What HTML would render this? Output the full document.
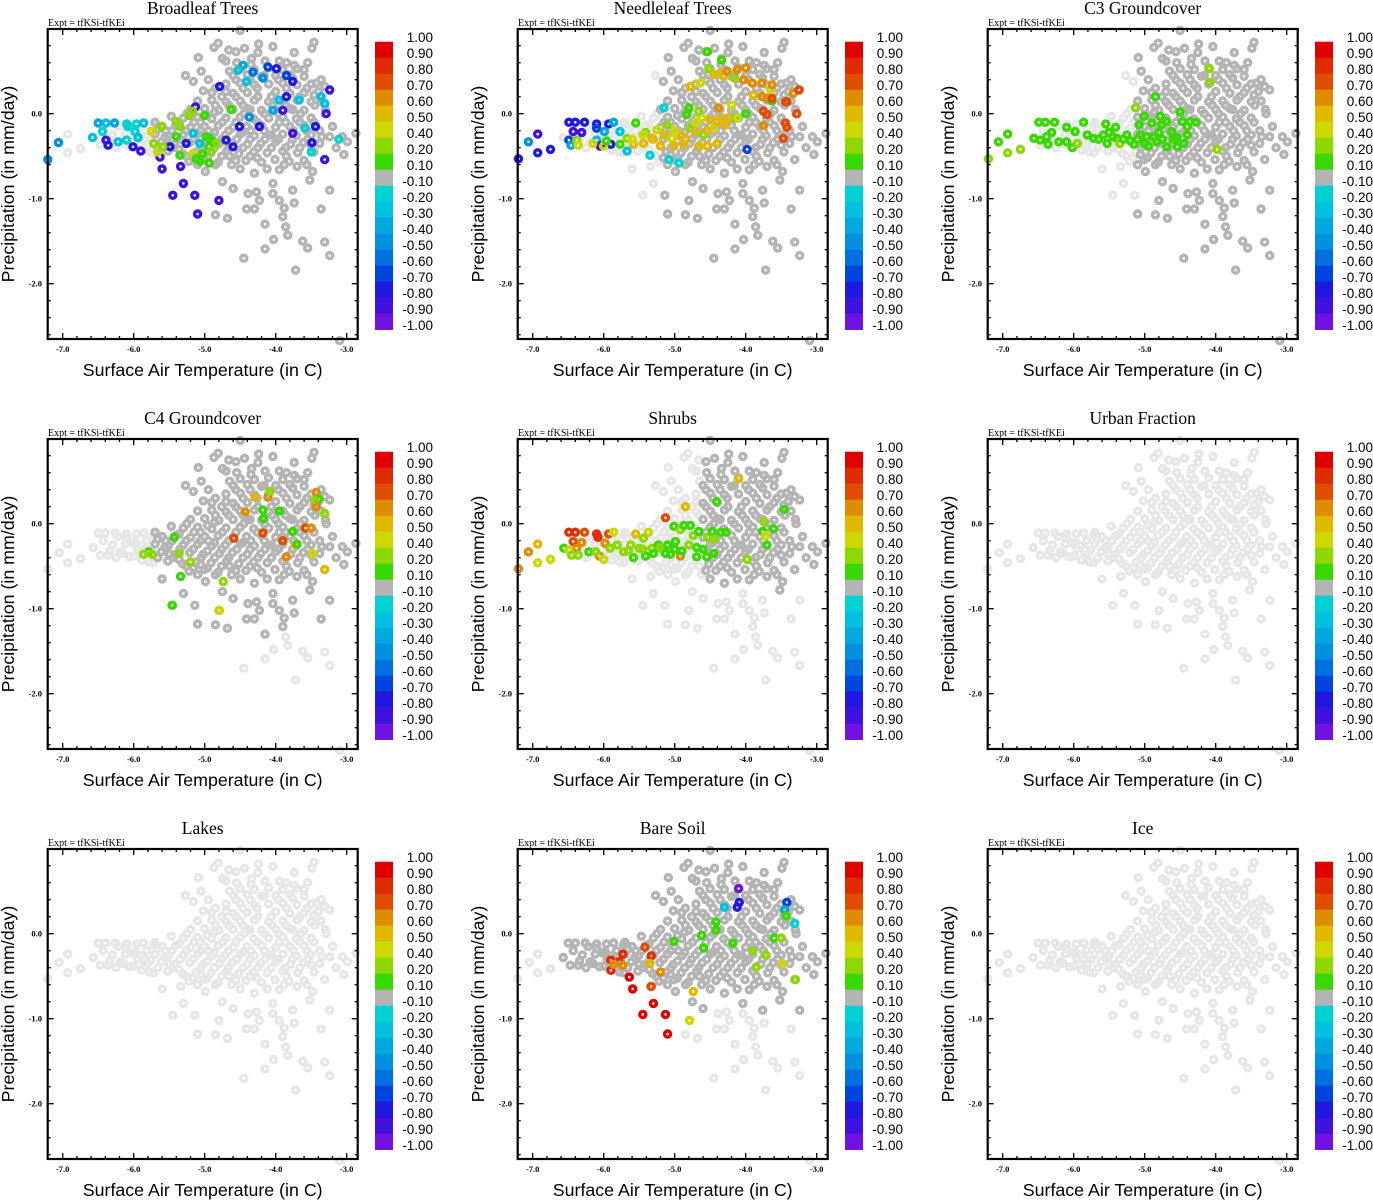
<!DOCTYPE html>
<html><head><meta charset="utf-8"><style>
html,body{margin:0;padding:0;background:#fff;}
svg{display:block;}
</style></head><body>
<svg id="chart" xmlns="http://www.w3.org/2000/svg" width="1373" height="1200" viewBox="0 0 1373 1200"></svg>
<script>
// ---------- data ----------
const panelTitles = ["Broadleaf Trees","Needleleaf Trees","C3 Groundcover","C4 Groundcover","Shrubs","Urban Fraction","Lakes","Bare Soil","Ice"];
const xTickValues = [-7,-6,-5,-4,-3];
const xTickLabels = ["-7.0","-6.0","-5.0","-4.0","-3.0"];
const yTickValues = [0,-1,-2];
const yTickLabels = ["0.0","-1.0","-2.0"];
const cbarLabels = ["1.00","0.90","0.80","0.70","0.60","0.50","0.40","0.20","0.10","-0.10","-0.20","-0.30","-0.40","-0.50","-0.60","-0.70","-0.80","-0.90","-1.00"];
const cbarBounds = [1.0,0.9,0.8,0.7,0.6,0.5,0.4,0.2,0.1,-0.1,-0.2,-0.3,-0.4,-0.5,-0.6,-0.7,-0.8,-0.9,-1.0];
const cbarColors = ["#e00000","#e02a00","#e04c00","#e08c00","#e0b800","#ccd800","#8cd800","#38d800","#b4b4b4","#00d2d2","#00c0e0","#00a8e0","#0090e0","#0070e0","#0044e0","#2018e0","#4012e0","#7012e0"];

// shared point cloud: [temperature, precipitation]
const basePoints = [
[-7.21,-0.53],[-7.05,-0.34],[-6.93,-0.24],[-6.93,-0.46],[-6.75,-0.41],
[-6.5,-0.11],[-6.4,-0.11],[-6.26,-0.11],[-6.1,-0.12],[-5.96,-0.12],[-5.86,-0.11],
[-6.57,-0.28],[-6.43,-0.2],[-6.34,-0.32],[-6.19,-0.33],[-6.47,-0.37],[-6.36,-0.37],[-6.06,-0.39],[-5.89,-0.43],[-6.01,-0.23],[-6.1,-0.17],[-5.98,-0.21],[-6.15,-0.35],[-6.0,-0.38],
[-5.09,0.66],[-5.27,0.45],[-5.16,0.38],[-5.02,0.27],[-4.81,0.83],[-4.87,0.78],[-4.75,0.65],[-4.66,0.75],[-4.56,0.73],[-4.44,0.77],[-4.34,0.65],[-4.24,0.82],[-4.04,0.79],[-3.74,0.72],[-3.46,0.84],[-3.49,0.77],[-3.74,0.57],[-4.5,0.98],
[-3.43,0.36],[-3.31,0.32],[-3.24,0.28],[-3.29,0.0],[-3.2,-0.15],[-3.35,-0.27],[-3.24,-0.27],[-3.06,-0.27],[-2.87,-0.23],[-2.99,-0.33],[-3.04,-0.48],[-3.31,-0.54],
[-3.48,-0.68],[-3.52,-0.78],[-3.24,-0.9],[-3.36,-1.12],[-3.31,-1.51],[-3.24,-1.67],[-3.55,-1.58],[-3.62,-1.5],[-3.72,-1.84],[-3.83,-1.43],[-3.86,-1.33],[-3.9,-1.21],[-3.88,-1.11],
[-4.03,-1.48],[-4.15,-1.59],[-4.15,-1.3],[-4.45,-1.7],[-4.41,-1.12],[-4.3,-1.12],[-4.23,-1.02],[-4.27,-0.92],[-4.39,-0.94],[-4.04,-0.94],[-3.95,-1.02],[-4.04,-0.82],[-3.76,-0.9],[-3.74,-1.05],
[-4.6,-0.88],[-4.75,-0.8],[-4.68,-1.23],[-4.85,-1.19],[-5.1,-1.18],[-5.45,-0.96],[-5.14,-0.96],[-5.3,-0.82],[-4.8,-1.02],[-5.6,-0.65],[-5.34,-0.62],[-4.99,-0.68],[-5.47,-0.03],[-3.1,-2.67],
[-5.72,-0.46],[-5.52,-0.44],[-5.31,-0.47],[-5.12,-0.45],[-4.91,-0.46],[-4.69,-0.44],[-4.52,-0.47],[-4.31,-0.45],[-4.12,-0.46],[-3.9,-0.44],[-3.69,-0.46],
[-5.22,-0.56],[-5.01,-0.54],[-4.81,-0.57],[-4.42,-0.55],[-4.2,-0.57],[-4.01,-0.54],[-3.81,-0.56],[-3.6,-0.55],[-4.62,-0.6],[-3.95,-0.66],[-4.3,-0.7],
[-5.8,-0.35],[-5.61,-0.33],[-5.42,-0.36],[-5.21,-0.34],[-5.02,-0.36],[-4.79,-0.35],[-4.61,-0.34],[-4.4,-0.36],[-4.21,-0.35],[-4.0,-0.33],[-3.79,-0.36],[-3.61,-0.34],[-3.5,-0.37],
[-5.9,-0.26],[-5.7,-0.24],[-5.51,-0.26],[-5.3,-0.25],[-5.1,-0.24],[-4.9,-0.26],[-4.71,-0.25],[-4.5,-0.24],[-4.3,-0.26],[-4.1,-0.25],[-3.9,-0.24],[-3.71,-0.26],[-3.5,-0.25],
[-5.6,-0.15],[-5.41,-0.14],[-5.2,-0.16],[-5.0,-0.15],[-4.81,-0.14],[-4.6,-0.16],[-4.41,-0.15],[-4.2,-0.14],[-4.0,-0.16],[-3.8,-0.15],[-3.6,-0.14],
[-5.3,-0.05],[-5.1,-0.04],[-4.9,-0.06],[-4.7,-0.05],[-4.5,-0.04],[-4.31,-0.06],[-4.1,-0.05],[-3.9,-0.04],[-3.71,-0.06],[-3.5,-0.05],
[-5.2,0.05],[-5.0,0.06],[-4.8,0.04],[-4.6,0.05],[-4.4,0.06],[-4.2,0.04],[-4.0,0.05],[-3.8,0.06],[-3.6,0.04],
[-5.1,0.15],[-4.9,0.16],[-4.7,0.14],[-4.5,0.15],[-4.3,0.16],[-4.1,0.14],[-3.9,0.15],[-3.7,0.16],[-3.5,0.14],
[-4.9,0.25],[-4.7,0.26],[-4.6,0.24],[-4.4,0.25],[-4.0,0.26],[-3.8,0.24],[-3.6,0.25],[-3.4,0.26],
[-4.7,0.35],[-4.5,0.36],[-4.3,0.34],[-4.1,0.35],[-3.9,0.36],[-3.7,0.34],[-3.5,0.35],
[-4.6,0.45],[-4.4,0.46],[-4.2,0.44],[-4.0,0.45],[-3.8,0.46],[-3.6,0.44],
[-4.5,0.53],[-4.3,0.52],[-4.1,0.54],[-3.9,0.52],[-3.7,0.53],
[-5.55,-0.2],[-5.35,-0.3],[-5.15,-0.1],[-4.95,-0.2],[-4.75,-0.1],[-4.55,-0.3],[-4.35,-0.2],[-4.15,-0.3],[-3.95,-0.1],[-3.75,-0.2],[-3.55,-0.3],
[-5.45,-0.4],[-5.05,-0.4],[-4.65,-0.5],[-4.25,-0.4],[-3.85,-0.5],[-5.25,0.0],[-4.85,0.1],[-4.45,0.0],[-4.05,0.1],[-3.65,0.0],
[-4.85,0.3],[-4.25,0.2],[-3.85,0.3],[-3.45,0.1],[-4.55,0.6],[-3.95,0.62],[-3.3,0.05],[-3.15,-0.4],[-5.7,-0.1],[-5.85,-0.3],
[-5.82,-0.2],[-5.76,-0.31],[-5.66,-0.18],[-5.66,-0.4],[-5.56,-0.28],[-5.5,-0.36],[-5.46,-0.2],[-5.36,-0.12],[-5.36,-0.42],[-5.26,-0.2],[-5.26,-0.5],[-5.16,-0.3],[-5.16,-0.52],[-5.06,-0.1],[-5.06,-0.2],[-5.06,-0.48],
[-4.96,-0.02],[-4.96,-0.32],[-4.96,-0.52],[-4.86,-0.22],[-4.86,-0.4],[-4.86,0.02],[-4.76,-0.3],[-4.76,-0.5],[-4.76,0.2],[-4.66,-0.2],[-4.66,-0.4],[-4.66,0.1],[-4.56,-0.1],[-4.56,-0.55],[-4.56,0.2],[-4.56,0.4],
[-4.46,-0.4],[-4.46,-0.22],[-4.46,0.1],[-4.46,0.3],[-4.36,-0.3],[-4.36,-0.5],[-4.36,0.05],[-4.36,0.4],[-4.26,-0.1],[-4.26,0.3],[-4.26,-0.52],[-4.16,-0.2],[-4.16,0.0],[-4.16,0.45],[-4.06,-0.4],[-4.06,-0.25],[-4.06,0.2],
[-3.96,-0.3],[-3.96,0.0],[-3.96,0.4],[-3.86,-0.1],[-3.86,-0.4],[-3.86,0.1],[-3.76,-0.3],[-3.76,0.05],[-3.76,0.42],[-3.66,-0.4],[-3.66,-0.1],[-3.66,0.2],[-3.56,-0.2],[-3.56,0.3],[-3.46,-0.1],[-3.46,-0.45],[-3.46,0.22],
[-3.38,-0.2],[-3.38,-0.35],[-3.36,0.15],[-3.36,0.4],[-3.56,-0.6],[-3.7,-0.62],[-3.88,-0.6],[-4.12,-0.65],[-4.5,-0.65],[-4.85,-0.6],[-5.1,-0.6],
[-4.65,0.5],[-4.35,0.58],[-4.15,0.62],[-3.85,0.6],[-3.6,0.52],[-3.55,0.6],[-4.95,0.4],[-5.05,0.5],[-4.7,0.62],[-4.25,0.72],
[-6.3,-0.25],[-6.22,-0.15],[-6.12,-0.24],[-5.95,-0.3],[-6.25,-0.4],[-5.92,-0.36],[-5.78,-0.45],[-5.72,-0.13]
];

// panel-specific coloured points: [temperature, precipitation, value]
const seriesBroadleaf = [
[-6.5,-0.11,-0.4],[-6.39,-0.11,-0.3],[-6.27,-0.11,-0.4],[-6.1,-0.12,-0.2],[-6.08,-0.15,-0.2],[-5.96,-0.12,-0.2],[-5.86,-0.11,-0.3],[-6.58,-0.28,-0.3],[-6.44,-0.21,-0.2],[-6.22,-0.33,-0.3],[-6.1,-0.31,-0.2],[-5.98,-0.21,-0.2],[-5.94,-0.28,-0.3],[-7.21,-0.54,-0.5],[-7.06,-0.34,-0.5],
[-6.39,-0.31,-0.85],[-6.36,-0.37,-0.8],[-6.01,-0.39,-0.8],[-5.9,-0.44,-0.9],[-5.63,-0.51,-0.9],[-5.6,-0.65,-0.9],[-5.34,-0.62,-0.9],[-5.3,-0.82,-0.9],[-5.45,-0.96,-0.9],[-5.14,-0.96,-0.9],[-5.1,-1.18,-0.9],[-4.8,-1.02,-0.9],[-5.13,0.08,-0.85],[-3.29,0.0,-0.85],[-3.31,-0.54,-0.9],[-3.44,-0.15,-0.8],[-3.24,0.28,-0.85],[-3.49,-0.34,-0.8],[-5.49,-0.39,-0.8],[-5.26,-0.35,-0.8],
[-5.75,-0.21,0.45],[-5.72,-0.35,0.2],[-5.66,-0.45,0.45],[-5.61,-0.15,0.2],[-5.59,-0.39,0.2],[-5.4,-0.09,0.3],[-5.4,-0.27,0.15],[-5.35,-0.15,0.2],[-5.35,-0.49,0.15],[-5.22,-0.02,0.2],[-5.17,0.03,0.3],[-5.17,-0.47,0.45],[-5.12,-0.53,0.15],[-5.07,-0.56,0.15],[-5.03,-0.47,0.15],[-5.0,-0.02,0.15],[-4.94,-0.58,0.15],[-4.98,-0.27,0.15],[-4.93,-0.29,0.15],[-4.88,-0.33,0.15],[-4.84,-0.35,0.2],[-4.94,-0.39,0.15],[-4.91,-0.44,0.2],[-4.63,0.05,0.15],
[-4.46,0.57,-0.4],[-4.53,0.51,-0.3],[-4.32,0.49,-0.6],[-4.18,0.42,-0.5],[-4.11,0.55,-0.7],[-3.99,0.53,-0.75],[-3.85,0.45,-0.7],[-3.76,0.38,-0.75],[-3.67,0.16,-0.3],[-3.59,-0.17,-0.2],[-3.5,-0.45,-0.2],[-3.36,0.2,-0.3],[-3.31,0.12,-0.25],[-3.11,-0.3,-0.2],[-4.41,0.38,-0.3],[-4.79,0.32,-0.75],[-4.7,-0.31,-0.75],[-4.6,-0.39,-0.75],[-4.51,-0.15,-0.75],[-4.37,-0.04,-0.5],[-4.23,-0.15,-0.75],[-3.9,0.04,-0.85],[-3.76,-0.23,-0.85],[-4.04,0.04,-0.4],[-3.95,0.16,-0.3],[-3.85,0.2,-0.75],[-5.07,-0.35,-0.3],[-5.16,-0.23,-0.3]
];
const seriesNeedleleaf = [
[-7.2,-0.53,-0.75],[-7.06,-0.33,-0.5],[-6.93,-0.24,-0.85],[-6.93,-0.46,-0.75],[-6.75,-0.42,-0.75],[-6.49,-0.1,-0.75],[-6.4,-0.1,-0.75],[-6.27,-0.1,-0.75],[-6.1,-0.12,-0.75],[-6.1,-0.17,-0.65],[-5.93,-0.12,-0.75],[-5.86,-0.1,-0.4],[-6.43,-0.21,-0.85],[-6.31,-0.22,-0.85],[-6.49,-0.31,-0.65],[-6.46,-0.37,-0.4],[-6.1,-0.31,-0.3],[-6.05,-0.38,-0.85],[-5.9,-0.36,-0.75],[-5.99,-0.21,-0.4],[-5.77,-0.21,-0.3],[-5.67,-0.44,-0.3],[-5.15,0.07,-0.2],[-5.35,-0.49,-0.2],[-5.08,-0.54,-0.2],[-4.94,-0.58,-0.2],[-3.98,-0.42,-0.65],
[-6.38,-0.31,0.2],[-6.36,-0.37,0.45],[-6.15,-0.35,0.45],[-6.0,-0.38,0.45],[-5.96,-0.32,0.15],[-5.77,-0.36,0.15],[-5.67,-0.29,0.3],[-5.55,-0.11,0.15],[-5.58,-0.36,0.55],[-5.44,-0.35,0.55],[-5.41,-0.22,0.3],[-5.32,-0.29,0.55],[-5.25,-0.19,0.45],[-5.2,-0.38,0.55],[-5.11,-0.13,0.3],[-5.04,-0.29,0.45],[-5.01,-0.38,0.55],[-4.92,-0.25,0.55],[-4.87,-0.36,0.55],[-4.83,-0.01,0.15],[-4.78,-0.17,0.3],[-4.71,-0.21,0.55],[-4.66,-0.38,0.55],[-4.62,-0.05,0.45],[-4.59,-0.25,0.2],[-4.54,-0.38,0.55],[-4.5,-0.07,0.55],[-4.45,-0.17,0.45],[-4.4,-0.35,0.55],[-4.38,0.07,0.65],[-4.35,-0.05,0.55],[-4.28,-0.13,0.55],[-4.2,0.1,0.45],[-4.14,-0.05,0.15],[-4.12,-0.05,0.45],[-4.0,0.0,0.15],[-4.78,0.32,0.55],[-4.64,0.36,0.45],[-4.54,0.73,0.15],[-4.52,0.53,0.3],[-4.34,0.63,0.15],[-4.45,0.46,0.55],[-4.36,0.48,0.55],[-4.31,0.44,0.55],[-4.16,0.42,0.3],[-3.65,0.28,0.45],[-3.63,0.15,0.15],[-4.8,0.07,0.15],[-4.66,0.03,0.2],
[-5.3,-0.3,0.55],[-5.15,-0.25,0.55],[-5.0,-0.2,0.45],[-4.85,-0.3,0.55],[-4.7,-0.1,0.45],[-4.55,-0.2,0.55],[-4.4,-0.1,0.55],[-4.25,-0.05,0.55],[-5.45,-0.25,0.45],[-5.6,-0.3,0.45],
[-4.26,0.5,0.65],[-4.12,0.52,0.65],[-4.0,0.54,0.65],[-4.03,0.4,0.65],[-3.91,0.36,0.65],[-3.77,0.36,0.65],[-3.63,0.34,0.65],[-3.89,0.22,0.55],[-3.77,0.2,0.65],[-3.7,0.18,0.65],[-3.63,0.18,0.75],[-3.75,0.03,0.75],[-3.7,-0.01,0.75],[-3.75,-0.14,0.65],[-3.44,0.14,0.75],[-3.42,0.14,0.75],[-3.33,0.24,0.65],[-3.25,0.28,0.75],[-3.28,0.0,0.75],[-3.44,-0.11,0.75],[-3.42,-0.16,0.75],[-3.47,-0.29,0.75]
];
const seriesC3 = [
[-7.2,-0.53,0.3],[-7.06,-0.33,0.15],[-6.93,-0.24,0.15],[-6.93,-0.46,0.3],[-6.75,-0.42,0.3],[-6.49,-0.1,0.15],[-6.4,-0.1,0.15],[-6.27,-0.1,0.15],[-6.1,-0.16,0.15],[-5.98,-0.21,0.15],[-5.86,-0.1,0.15],[-6.56,-0.29,0.15],[-6.47,-0.31,0.15],[-6.38,-0.27,0.15],[-6.36,-0.36,0.15],[-6.31,-0.22,0.15],[-6.21,-0.33,0.15],[-6.1,-0.33,0.15],[-6.02,-0.4,0.15],[-5.95,-0.35,0.3],[-5.81,-0.25,0.15],[-5.72,-0.29,0.15],[-5.58,-0.25,0.15],[-5.55,-0.12,0.15],[-5.53,-0.35,0.15],[-5.41,-0.16,0.15],[-5.39,-0.29,0.15],[-5.35,-0.35,0.3],[-5.25,-0.25,0.15],[-5.15,-0.36,0.15],[-5.08,-0.13,0.15],[-5.01,-0.03,0.15],[-4.97,-0.27,0.15],[-4.9,-0.11,0.15],[-4.85,0.2,0.15],[-4.83,-0.33,0.15],[-4.78,-0.03,0.15],[-4.76,-0.13,0.15],[-4.69,-0.09,0.15],[-4.69,-0.39,0.15],[-4.62,-0.21,0.15],[-4.5,0.02,0.15],[-4.47,-0.09,0.15],[-4.45,-0.35,0.15],[-4.36,-0.09,0.15],[-4.28,-0.1,0.15],[-4.54,-0.39,0.15],[-5.13,0.07,0.3],[-4.09,0.53,0.3],[-4.08,0.37,0.3],[-3.98,-0.42,0.3],[-5.06,-0.25,0.15],[-4.87,-0.27,0.15],[-5.3,-0.3,0.15],[-5.45,-0.27,0.15],[-4.6,-0.3,0.15],[-4.4,-0.25,0.15],[-5.0,-0.35,0.15],
[-5.65,-0.3,0.15],[-5.5,-0.22,0.15],[-5.2,-0.32,0.15],[-4.95,-0.38,0.15],[-4.75,-0.3,0.15],[-4.55,-0.28,0.15],[-4.4,-0.15,0.15],[-5.1,-0.3,0.15],[-4.8,-0.22,0.15]
];
const seriesC4 = [
[-5.79,-0.33,0.15],[-5.86,-0.36,0.3],[-5.74,-0.36,0.3],[-5.43,-0.16,0.15],[-5.36,-0.35,0.3],[-5.2,-0.45,0.3],[-5.34,-0.62,0.15],[-5.46,-0.96,0.15],[-4.74,-0.68,0.3],[-4.79,-1.02,0.45],[-4.59,-0.17,0.75],[-4.43,0.14,0.65],[-4.29,0.31,0.55],[-4.11,0.31,0.65],[-4.08,0.38,0.3],[-4.18,0.16,0.15],[-4.17,0.06,0.15],[-3.95,0.15,0.15],[-4.18,-0.11,0.75],[-3.9,-0.2,0.75],[-3.76,-0.09,0.15],[-3.72,-0.25,0.55],[-3.7,-0.24,0.15],[-3.85,-0.39,0.65],[-3.58,-0.05,0.75],[-3.5,-0.05,0.65],[-3.48,-0.35,0.45],[-3.43,0.37,0.65],[-3.39,0.29,0.15],[-3.45,0.27,0.3],[-3.43,0.2,0.65],[-3.31,0.12,0.3],[-3.31,-0.54,0.55]
];
const seriesShrubs = [
[-7.2,-0.53,0.65],[-7.06,-0.33,0.65],[-6.93,-0.24,0.55],[-6.93,-0.46,0.45],[-6.75,-0.42,0.45],[-6.49,-0.1,0.85],[-6.4,-0.1,0.85],[-6.27,-0.1,0.75],[-6.1,-0.12,0.85],[-6.08,-0.16,0.85],[-5.93,-0.12,0.75],[-5.86,-0.1,0.45],[-6.43,-0.21,0.75],[-6.31,-0.22,0.65],[-6.38,-0.29,0.65],[-5.98,-0.23,0.65],[-6.06,-0.38,0.65],[-6.56,-0.29,0.15],[-6.49,-0.31,0.45],[-6.45,-0.37,0.3],[-6.36,-0.37,0.3],[-6.21,-0.33,0.15],[-6.11,-0.33,0.3],[-6.0,-0.42,0.45],[-5.55,-0.12,0.55],[-5.37,-0.1,0.45],[-5.13,0.07,0.75],[-4.85,0.2,0.55],[-4.1,0.53,0.55],[-4.92,-0.38,0.65],
[-5.91,-0.29,0.3],[-5.81,-0.25,0.3],[-5.72,-0.33,0.3],[-5.62,-0.25,0.3],[-5.58,-0.4,0.15],[-5.5,-0.29,0.2],[-5.44,-0.17,0.3],[-5.41,-0.38,0.15],[-5.32,-0.29,0.2],[-5.23,-0.25,0.15],[-5.2,-0.29,0.3],[-5.13,-0.35,0.15],[-5.06,-0.36,0.15],[-5.01,-0.03,0.15],[-4.99,-0.21,0.15],[-4.92,-0.07,0.3],[-4.87,-0.02,0.15],[-4.78,-0.02,0.15],[-4.74,-0.14,0.3],[-4.69,-0.28,0.15],[-4.69,-0.39,0.15],[-4.66,-0.09,0.15],[-4.54,-0.16,0.3],[-4.55,-0.39,0.15],[-4.47,-0.09,0.15],[-4.45,-0.35,0.15],[-4.44,-0.18,0.2],[-4.41,0.26,0.15],[-4.35,-0.1,0.15],[-4.28,-0.1,0.15],[-3.98,-0.42,0.3],[-3.76,-0.09,0.15],[-3.74,0.02,0.3],[-3.72,-0.14,0.45],[-3.7,-0.25,0.15],[-3.61,-0.06,0.15],[-3.46,0.17,0.15],[-4.8,-0.25,0.3],[-5.3,-0.35,0.15],[-5.0,-0.3,0.15],
[-5.65,-0.32,0.3],[-5.45,-0.3,0.3],[-5.1,-0.25,0.15],[-4.9,-0.32,0.15],[-4.6,-0.3,0.15]
];
const seriesBareSoil = [
[-5.9,-0.31,0.85],[-5.9,-0.43,0.85],[-5.78,-0.33,0.85],[-5.73,-0.24,0.85],[-5.86,-0.36,0.65],[-5.73,-0.37,0.65],[-5.64,-0.51,0.95],[-5.59,-0.65,0.95],[-5.45,-0.95,0.95],[-5.3,-0.82,0.95],[-5.13,-0.95,0.95],[-5.1,-1.18,0.95],[-5.33,-0.62,0.75],[-5.42,-0.16,0.75],[-5.33,-0.26,0.85],[-5.35,-0.35,0.55],[-5.2,-0.45,0.65],[-4.74,-0.68,0.55],[-4.79,-1.02,0.45],[-5.01,-0.09,0.15],[-4.62,-0.02,0.15],[-4.59,-0.17,0.15],[-4.42,0.14,0.15],[-4.42,0.04,0.15],[-4.18,-0.11,0.15],[-4.3,0.31,-0.3],[-4.1,0.53,-0.95],[-4.09,0.37,-0.75],[-4.12,0.31,-0.75],[-3.9,-0.2,0.3],[-3.85,-0.39,0.3],[-3.72,-0.25,0.3],[-3.6,-0.05,0.15],[-3.5,-0.05,0.3],[-3.48,-0.35,0.45],[-3.42,0.37,-0.65],[-3.45,0.28,-0.4],[-3.43,0.21,0.15],[-3.31,0.12,-0.2],[-3.3,-0.54,0.3]
];
const panelSeries = [seriesBroadleaf,seriesNeedleleaf,seriesC3,seriesC4,seriesShrubs,[],[],seriesBareSoil,[]];
// per panel: base points with temperature >= first value and precipitation >= second value are near-zero (dark grey)
const darkMinTemp = [-5.7,-5.2,-5.1,-5.7,-4.6,null,null,-6.6,null];
const darkMinPrecip = [-3,-3,-3,-1.3,-0.8,null,null,-0.9,null];

// ---------- drawing ----------
const NS = "http://www.w3.org/2000/svg";
const svg = document.getElementById('chart');
const PL=47.7, PR=357.7, PT=29, PB=339;
function xScale(v){ return 62.7 + (v + 7) * 71; }
function yScale(v){ return 113.7 - v * 85; }
function mk(tag, attrs, parent){
  const e = document.createElementNS(NS, tag);
  for (const k in attrs) e.setAttribute(k, attrs[k]);
  parent.appendChild(e); return e;
}
function colorFor(v){
  for (let i=0;i<cbarColors.length;i++){
    if (v <= cbarBounds[i] && v >= cbarBounds[i+1]) return cbarColors[i];
  }
  return cbarColors[cbarColors.length-1];
}
function marker(g, x, y, col){
  return mk('circle',{cx:xScale(x).toFixed(1),cy:yScale(y).toFixed(1),r:3.0,fill:'none',stroke:col,'stroke-width':3.4},g);
}
const serif = '"Liberation Serif", serif';
const sans = '"Liberation Sans", sans-serif';

for (let p=0;p<9;p++){
  const dx = (p%3)*470, dy = Math.floor(p/3)*410;
  const g = mk('g',{transform:`translate(${dx},${dy})`},svg);
  
  

  const t = mk('text',{x:202.7,y:14,'text-anchor':'middle','font-family':serif,'font-size':17.5,fill:'#000'},g);
  t.textContent = panelTitles[p];
  
  

  const ex = mk('text',{x:48,y:26,'font-family':serif,'font-size':10,fill:'#000'},g);
  ex.textContent = 'Expt = tfKSi-tfKEi';
  
  

  const pts = mk('g',{},g);
  
  
  const darkT = darkMinTemp[p], darkP = darkMinPrecip[p];
  basePoints.forEach(bp=>{
    const c = marker(pts,bp[0],bp[1],'#e6e6e6');
    
    
  });
  if (darkT !== null){
    basePoints.forEach(bp=>{
      if (bp[0] >= darkT && bp[1] >= darkP){
        const c = marker(pts,bp[0],bp[1],'#b4b4b4');
        
        
      }
    });
  }
  panelSeries[p].forEach(sp=>{
    const c = marker(pts,sp[0],sp[1],colorFor(sp[2]));
    
    
  });

  const ticks = mk('g',{stroke:'#000','stroke-width':1.3},g);
  
  
  for (let k=0;k<=21;k++){
    const v = -7.2 + k*0.2;
    const xx = xScale(v);
    if (xx < PL+1 || xx > PR-1) continue;
    const major = Math.abs(v - Math.round(v)) < 0.01;
    const L = major ? 6 : 3;
    mk('line',{x1:xx,y1:PB,x2:xx,y2:PB-L},ticks);
    mk('line',{x1:xx,y1:PT,x2:xx,y2:PT+L},ticks);
  }
  for (let k=0;k<=20;k++){
    const v = 1.0 - k*0.2;
    const yy = yScale(v);
    if (yy < PT+1 || yy > PB-1) continue;
    const major = Math.abs(v - Math.round(v)) < 0.01;
    const L = major ? 6 : 3;
    mk('line',{x1:PL,y1:yy,x2:PL+L,y2:yy},ticks);
    mk('line',{x1:PR,y1:yy,x2:PR-L,y2:yy},ticks);
  }
  const fr = mk('rect',{x:PL,y:PT,width:PR-PL,height:PB-PT,fill:'none',stroke:'#000','stroke-width':2.2},g);
  
  

  xTickValues.forEach((v,i)=>{
    const tx = mk('text',{x:xScale(v),y:352,'text-anchor':'middle','font-family':serif,'font-size':8.5,'font-weight':'bold',fill:'#000'},g);
    tx.textContent = xTickLabels[i];
    
    
  });
  yTickValues.forEach((v,i)=>{
    const ty = mk('text',{x:42,y:yScale(v)+3,'text-anchor':'end','font-family':serif,'font-size':8.5,'font-weight':'bold',fill:'#000'},g);
    ty.textContent = yTickLabels[i];
    
    
  });
  const xl = mk('text',{x:202.7,y:376,'text-anchor':'middle','font-family':sans,'font-size':17.8,fill:'#000'},g);
  xl.textContent = 'Surface Air Temperature (in C)';
  
  
  const yl = mk('text',{x:0,y:0,'text-anchor':'middle','font-family':sans,'font-size':17.8,fill:'#000',transform:'translate(14,184) rotate(-90)'},g);
  yl.textContent = 'Precipitation (in mm/day)';
  
  

  const cb = mk('g',{},g);
  
  
  cbarColors.forEach((col,i)=>{
    const r = mk('rect',{x:375,y:41.7+i*16,width:18,height:16.3,fill:col},cb);
    
    
  });
  cbarLabels.forEach((lab,i)=>{
    const tl = mk('text',{x:433,y:42+i*16,'text-anchor':'end','font-family':sans,'font-size':13.5,fill:'#000'},cb);
    tl.textContent = lab;
    
    
  });
}
</script>
</body></html>
